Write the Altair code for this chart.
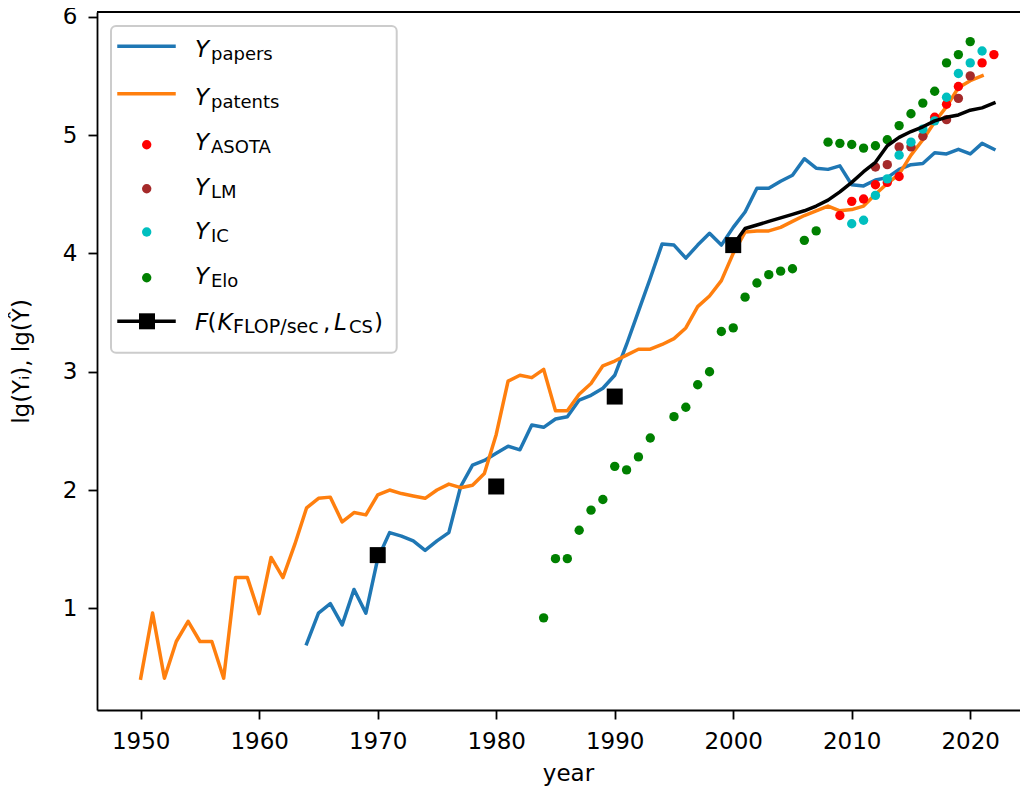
import altair as alt
import pandas as pd

# ---------------- data ----------------
papers_years = list(range(1964, 2023))
papers_vals = [0.70, 0.96, 1.04, 0.86, 1.16, 0.96, 1.42, 1.64, 1.61, 1.57,
               1.49, 1.57, 1.64, 2.03, 2.21, 2.25, 2.31, 2.37, 2.34, 2.55,
               2.53, 2.60, 2.62, 2.76, 2.80, 2.86, 2.97, 3.23, 3.51, 3.79,
               4.08, 4.07, 3.96, 4.07, 4.17, 4.07, 4.22, 4.35, 4.55, 4.55,
               4.61, 4.66, 4.80, 4.72, 4.71, 4.74, 4.58, 4.57, 4.62, 4.64,
               4.71, 4.75, 4.76, 4.85, 4.84, 4.88, 4.84, 4.93, 4.88]

patents_years = list(range(1950, 2022))
patents_vals = [0.41, 0.96, 0.41, 0.72, 0.89, 0.72, 0.72, 0.41, 1.26, 1.26,
                0.955, 1.43, 1.26, 1.54, 1.85, 1.93, 1.94, 1.73, 1.81, 1.79,
                1.96, 2.00, 1.97, 1.95, 1.93, 2.00, 2.05, 2.02, 2.04, 2.14,
                2.47, 2.92, 2.97, 2.95, 3.02, 2.67, 2.67, 2.81, 2.90, 3.05,
                3.09, 3.14, 3.19, 3.19, 3.23, 3.28, 3.37, 3.55, 3.64, 3.77,
                4.00, 4.18, 4.19, 4.19, 4.22, 4.27, 4.32, 4.36, 4.40, 4.36,
                4.37, 4.40, 4.50, 4.59, 4.67, 4.83, 4.96, 5.11, 5.24, 5.40,
                5.46, 5.50]

asota_years = [2009, 2010, 2011, 2012, 2013, 2014, 2017, 2018, 2019, 2021, 2022]
asota_vals = [4.32, 4.44, 4.46, 4.58, 4.60, 4.65, 5.15, 5.26, 5.41, 5.61, 5.68]

lm_years = [2012, 2013, 2014, 2015, 2016, 2018, 2019, 2020]
lm_vals = [4.73, 4.75, 4.90, 4.90, 4.99, 5.13, 5.31, 5.50]

ic_years = [2010, 2011, 2012, 2013, 2014, 2015, 2016, 2017, 2018, 2019, 2020, 2021]
ic_vals = [4.25, 4.28, 4.49, 4.63, 4.83, 4.94, 5.05, 5.12, 5.32, 5.52, 5.61, 5.71]

elo_years = [1984, 1985, 1986, 1987, 1988, 1989, 1990, 1991, 1992, 1993,
             1995, 1996, 1997, 1998, 1999, 2000, 2001, 2002, 2003, 2004,
             2005, 2006, 2007, 2008, 2009, 2010, 2011, 2012, 2013, 2014,
             2015, 2016, 2017, 2018, 2019, 2020]
elo_vals = [0.92, 1.42, 1.42, 1.66, 1.83, 1.92, 2.20, 2.17, 2.28, 2.44,
            2.62, 2.70, 2.89, 3.00, 3.34, 3.37, 3.63, 3.75, 3.82, 3.85,
            3.87, 4.11, 4.19, 4.94, 4.93, 4.92, 4.89, 4.91, 4.96, 5.08,
            5.18, 5.27, 5.37, 5.61, 5.68, 5.79]

f_square_years = [1970, 1980, 1990, 2000]
f_square_vals = [1.45, 2.03, 2.79, 4.07]

f_line_years = list(range(2000, 2023))
f_line_vals = [4.07, 4.21, 4.24, 4.27, 4.30, 4.33, 4.36, 4.40, 4.45, 4.52,
               4.60, 4.69, 4.77, 4.91, 4.98, 5.03, 5.07, 5.12, 5.15, 5.17,
               5.21, 5.23, 5.27]

x_ticks = [1950, 1960, 1970, 1980, 1990, 2000, 2010, 2020]
y_ticks = [1, 2, 3, 4, 5, 6]

legend_subs = ["papers", "patents", "ASOTA", "LM", "IC", "Elo"]

# ---------------- styling ----------------
C_BLUE = "#1f77b4"
C_ORANGE = "#ff7f0e"
C_RED = "#ff0000"
C_BROWN = "#a52a2a"
C_CYAN = "#00bfbf"
C_GREEN = "#008000"
FONT = "DejaVu Sans"

W, H = 923, 698
x_scale = alt.Scale(domain=[1946.31, 2024.2], nice=False, zero=False)
y_scale = alt.Scale(domain=[0.141, 6.04], nice=False, zero=False)

x_axis = alt.Axis(values=x_ticks, format="d", title="year", grid=False,
                  tickSize=9, labelPadding=11, titleX=471, titleY=70,
                  titleBaseline="alphabetic", titleAlign="center",
                  labelFlush=False)
y_axis = alt.Axis(values=y_ticks, format="d", title="lg(Yᵢ), lg(Ŷ)", grid=False,
                  tickSize=9, labelPadding=11, titleX=-69, titleY=349,
                  titleBaseline="alphabetic", titleAlign="center",
                  titleAngle=270, labelFlush=False)


def df(years, vals):
    return pd.DataFrame({"year": years, "v": vals})


def enc(ch):
    return ch.encode(x=alt.X("year:Q", scale=x_scale, axis=x_axis),
                     y=alt.Y("v:Q", scale=y_scale, axis=y_axis))


def line(years, vals, color):
    return enc(alt.Chart(df(years, vals)).mark_line(
        color=color, strokeWidth=3.5, strokeJoin="round", strokeCap="square"))


def dots(years, vals, color):
    return enc(alt.Chart(df(years, vals)).mark_circle(
        color=color, size=88, opacity=1))


layers = [
    line(papers_years, papers_vals, C_BLUE),
    line(patents_years, patents_vals, C_ORANGE),
    dots(asota_years, asota_vals, C_RED),
    dots(lm_years, lm_vals, C_BROWN),
    dots(ic_years, ic_vals, C_CYAN),
    dots(elo_years, elo_vals, C_GREEN),
    line(f_line_years, f_line_vals, "black"),
    enc(alt.Chart(df(f_square_years, f_square_vals)).mark_square(
        color="black", size=256, opacity=1)),
]

anchor = pd.DataFrame({"k": [0]})

# top spine
layers.append(alt.Chart(anchor).mark_rule(color="black", strokeWidth=1.8).encode(
    x=alt.value(0), x2=alt.value(W), y=alt.value(0)))

# ---------------- legend ----------------
layers.append(alt.Chart(anchor).mark_rect(
    fill="white", fillOpacity=0.8, stroke="#cccccc", strokeWidth=2,
    cornerRadius=5).encode(
    x=alt.value(14), x2=alt.value(299.7), y=alt.value(14), y2=alt.value(340.7)))

row_y = [34.3, 81.7, 132.7, 176.7, 220, 265.7, 309.3]
base_off = [11, 11, 5, 6, 6.5, 6, 9]
sym_colors = [C_BLUE, C_ORANGE, C_RED, C_BROWN, C_CYAN, C_GREEN]


def txt(text, x, y, size, italic=False):
    kw = dict(text=text, font=FONT, fontSize=size, align="left",
              baseline="alphabetic", color="black")
    if italic:
        kw["fontStyle"] = "italic"
    return alt.Chart(anchor).mark_text(**kw).encode(x=alt.value(x), y=alt.value(y))


for i, sub in enumerate(legend_subs):
    yy = row_y[i]
    if i < 2:
        layers.append(alt.Chart(anchor).mark_rule(
            color=sym_colors[i], strokeWidth=3.5, strokeCap="square").encode(
            x=alt.value(22), x2=alt.value(77), y=alt.value(yy)))
    else:
        layers.append(alt.Chart(anchor).mark_circle(
            color=sym_colors[i], size=88, opacity=1).encode(
            x=alt.value(49.7), y=alt.value(yy)))
    b = yy + base_off[i]
    layers.append(txt("Y", 98, b, 23, italic=True))
    layers.append(txt(sub, 114, b + 3, 18))

# F row
yy = row_y[6]
layers.append(alt.Chart(anchor).mark_rule(
    color="black", strokeWidth=3.5, strokeCap="square").encode(
    x=alt.value(22), x2=alt.value(77), y=alt.value(yy)))
layers.append(alt.Chart(anchor).mark_square(
    color="black", size=256, opacity=1).encode(x=alt.value(50), y=alt.value(yy)))
b = yy + base_off[6]
layers.append(txt("F", 98, b, 23, italic=True))
layers.append(txt("(", 110.5, b, 23))
layers.append(txt("K", 120.5, b, 23, italic=True))
layers.append(txt("FLOP/sec", 136, b + 3, 19))
layers.append(txt(",", 226, b, 23))
layers.append(txt("L", 237, b, 23, italic=True))
layers.append(txt("CS", 252, b + 3, 18))
layers.append(txt(")", 277, b, 23))

chart = alt.layer(*layers).properties(
    width=W, height=H,
    autosize=alt.AutoSizeParams(type="none"),
    padding={"left": 89, "top": 4, "right": 0, "bottom": 76},
).configure_view(strokeWidth=0).configure_axis(
    labelFont=FONT, labelFontSize=23, labelColor="black",
    titleFont=FONT, titleFontSize=23, titleFontWeight="normal", titleColor="black",
    tickColor="black", tickWidth=1.8, domainColor="black", domainWidth=1.8,
)

chart.save("out.html", embed_options={"renderer": "svg", "actions": False})
